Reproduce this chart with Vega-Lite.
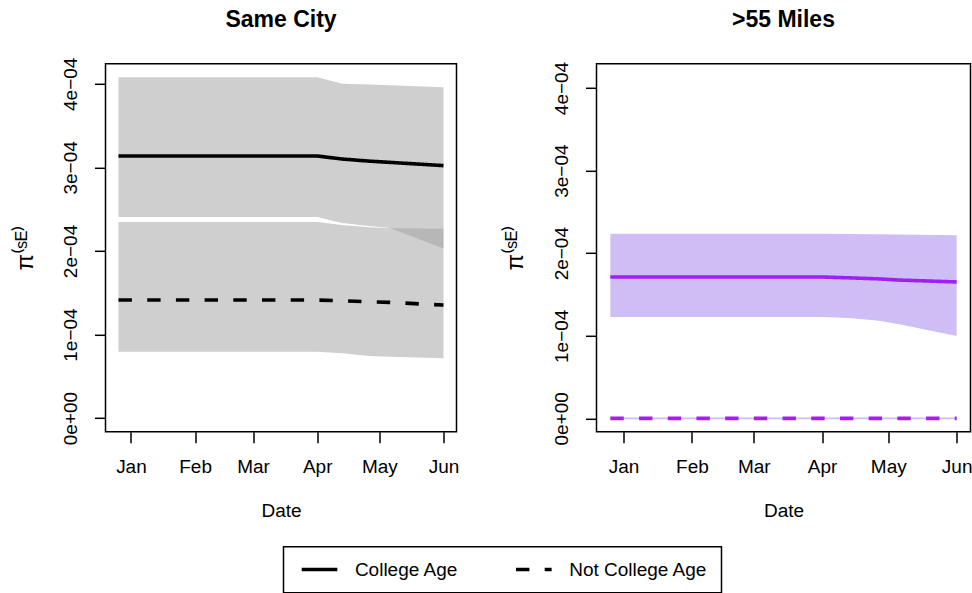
{
  "$schema": "https://vega.github.io/schema/vega-lite/v6.json",
  "background": "white",
  "padding": {"left": 11.5, "top": 7.8, "right": 5, "bottom": 1},
  "datasets": {
    "rows": [
      {"panel": "Same City", "group": "College Age", "date": "2020-12-26", "est": 0.0003136, "lo": 0.0002407, "hi": 0.0004079},
      {"panel": "Same City", "group": "College Age", "date": "2021-04-01", "est": 0.0003136, "lo": 0.0002407, "hi": 0.0004079},
      {"panel": "Same City", "group": "College Age", "date": "2021-04-13", "est": 0.0003100, "lo": 0.0002335, "hi": 0.0004000},
      {"panel": "Same City", "group": "College Age", "date": "2021-04-26", "est": 0.0003075, "lo": 0.0002300, "hi": 0.0003990},
      {"panel": "Same City", "group": "College Age", "date": "2021-05-06", "est": 0.0003060, "lo": 0.0002275, "hi": 0.0003983},
      {"panel": "Same City", "group": "College Age", "date": "2021-06-01", "est": 0.0003021, "lo": 0.0002030, "hi": 0.0003959},
      {"panel": "Same City", "group": "Not College Age", "date": "2020-12-26", "est": 0.0001413, "lo": 0.0000795, "hi": 0.0002347},
      {"panel": "Same City", "group": "Not College Age", "date": "2021-04-01", "est": 0.0001413, "lo": 0.0000795, "hi": 0.0002347},
      {"panel": "Same City", "group": "Not College Age", "date": "2021-04-13", "est": 0.0001405, "lo": 0.0000776, "hi": 0.0002310},
      {"panel": "Same City", "group": "Not College Age", "date": "2021-04-26", "est": 0.0001393, "lo": 0.0000744, "hi": 0.0002285},
      {"panel": "Same City", "group": "Not College Age", "date": "2021-05-06", "est": 0.0001385, "lo": 0.0000736, "hi": 0.0002272},
      {"panel": "Same City", "group": "Not College Age", "date": "2021-06-01", "est": 0.0001353, "lo": 0.0000716, "hi": 0.0002265},
      {"panel": ">55 Miles", "group": "College Age", "date": "2020-12-26", "est": 0.0001712, "lo": 0.0001229, "hi": 0.0002237},
      {"panel": ">55 Miles", "group": "College Age", "date": "2021-04-01", "est": 0.0001712, "lo": 0.0001229, "hi": 0.0002237},
      {"panel": ">55 Miles", "group": "College Age", "date": "2021-04-13", "est": 0.0001702, "lo": 0.0001215, "hi": 0.0002234},
      {"panel": ">55 Miles", "group": "College Age", "date": "2021-04-26", "est": 0.0001690, "lo": 0.0001185, "hi": 0.0002230},
      {"panel": ">55 Miles", "group": "College Age", "date": "2021-05-06", "est": 0.0001675, "lo": 0.0001140, "hi": 0.0002225},
      {"panel": ">55 Miles", "group": "College Age", "date": "2021-06-01", "est": 0.0001652, "lo": 0.0000999, "hi": 0.0002216},
      {"panel": ">55 Miles", "group": "Not College Age", "date": "2020-12-26", "est": 0, "lo": -0.000001, "hi": 0.000001},
      {"panel": ">55 Miles", "group": "Not College Age", "date": "2021-04-01", "est": 0, "lo": -0.000001, "hi": 0.000001},
      {"panel": ">55 Miles", "group": "Not College Age", "date": "2021-06-01", "est": 0, "lo": -0.000001, "hi": 0.000001}
    ]
  },
  "bounds": "flush",
  "spacing": 140,
  "hconcat": [
    {
      "width": 351,
      "height": 368,
      "title": {"text": "Same City", "fontSize": 23, "fontWeight": "bold", "font": "Liberation Sans", "color": "black", "frame": "group", "baseline": "alphabetic", "offset": 7, "anchor": "middle"},
      "data": {"name": "rows"},
      "transform": [{"filter": "datum.panel === 'Same City'"}],
      "encoding": {
        "x": {
          "field": "date", "type": "temporal", "title": "Date",
          "scale": {"type": "utc", "domain": [{"year": 2020, "month": 12, "date": 19, "hours": 17, "minutes": 17, "utc": true}, {"year": 2021, "month": 6, "date": 7, "hours": 6, "minutes": 43, "utc": true}]},
          "axis": {"format": "%b", "values": [{"year": 2021, "month": 1, "date": 1, "utc": true}, {"year": 2021, "month": 2, "date": 1, "utc": true}, {"year": 2021, "month": 3, "date": 1, "utc": true}, {"year": 2021, "month": 4, "date": 1, "utc": true}, {"year": 2021, "month": 5, "date": 1, "utc": true}, {"year": 2021, "month": 6, "date": 1, "utc": true}]}
        }
      },
      "layer": [
        {
          "mark": {"type": "area", "color": "#a0a0a0", "opacity": 0.5},
          "encoding": {
            "y": {"field": "lo", "type": "quantitative", "title": "π⁽ˢᴱ⁾", "scale": {"domain": [-0.0000163, 0.0004239], "nice": false, "zero": false}, "axis": {"values": [0, 0.0001, 0.0002, 0.0003, 0.0004], "labelExpr": "['0e+00','1e−04','2e−04','3e−04','4e−04'][round(datum.value*10000)]"}},
            "y2": {"field": "hi"},
            "detail": {"field": "group"}
          }
        },
        {
          "mark": {"type": "line", "color": "black", "strokeWidth": 3.6},
          "encoding": {
            "y": {"field": "est", "type": "quantitative", "title": "π⁽ˢᴱ⁾"},
            "strokeDash": {"field": "group", "type": "nominal", "scale": {"domain": ["College Age", "Not College Age"], "range": [[1, 0], [13.4, 15.3]]}, "legend": {"title": null, "orient": "none", "legendX": 178, "legendY": 483, "direction": "horizontal"}}
          }
        }
      ]
    },
    {
      "width": 374,
      "height": 368,
      "title": {"text": ">55 Miles", "fontSize": 23, "fontWeight": "bold", "font": "Liberation Sans", "color": "black", "frame": "group", "baseline": "alphabetic", "offset": 11, "anchor": "middle"},
      "data": {"name": "rows"},
      "transform": [{"filter": "datum.panel === '>55 Miles'"}],
      "encoding": {
        "x": {
          "field": "date", "type": "temporal", "title": "Date",
          "scale": {"type": "utc", "domain": [{"year": 2020, "month": 12, "date": 19, "hours": 17, "minutes": 17, "utc": true}, {"year": 2021, "month": 6, "date": 7, "hours": 6, "minutes": 43, "utc": true}]},
          "axis": {"format": "%b", "values": [{"year": 2021, "month": 1, "date": 1, "utc": true}, {"year": 2021, "month": 2, "date": 1, "utc": true}, {"year": 2021, "month": 3, "date": 1, "utc": true}, {"year": 2021, "month": 4, "date": 1, "utc": true}, {"year": 2021, "month": 5, "date": 1, "utc": true}, {"year": 2021, "month": 6, "date": 1, "utc": true}]}
        }
      },
      "layer": [
        {
          "mark": {"type": "area", "color": "#cfbef5", "opacity": 1},
          "encoding": {
            "y": {"field": "lo", "type": "quantitative", "title": "π⁽ˢᴱ⁾", "scale": {"domain": [-0.0000162, 0.0004293], "nice": false, "zero": false}, "axis": {"values": [0, 0.0001, 0.0002, 0.0003, 0.0004], "labelExpr": "['0e+00','1e−04','2e−04','3e−04','4e−04'][round(datum.value*10000)]"}},
            "y2": {"field": "hi"},
            "detail": {"field": "group"}
          }
        },
        {
          "mark": {"type": "line", "color": "#a020f0", "strokeWidth": 3.6},
          "encoding": {
            "y": {"field": "est", "type": "quantitative", "title": "π⁽ˢᴱ⁾"},
            "strokeDash": {"field": "group", "type": "nominal", "scale": {"domain": ["College Age", "Not College Age"], "range": [[1, 0], [13.4, 15.3]]}, "legend": {"title": null, "orient": "none", "legendX": 178, "legendY": 483, "direction": "horizontal"}}
          }
        }
      ]
    }
  ],
  "config": {
    "font": "Liberation Sans",
    "view": {"stroke": "black", "strokeWidth": 1.5},
    "axis": {"labelFont": "Liberation Sans", "labelFontSize": 19, "labelColor": "black", "titleFont": "Liberation Sans", "titleFontSize": 19, "titleFontWeight": "normal", "titleColor": "black", "tickColor": "black", "tickWidth": 1.5, "tickSize": 11, "domain": false, "grid": false},
    "axisX": {"labelAngle": 0, "labelPadding": 30, "labelBaseline": "alphabetic", "titleBaseline": "alphabetic", "titlePadding": 40},
    "axisY": {"labelAngle": -90, "labelAlign": "center", "labelBaseline": "alphabetic", "labelPadding": 18, "titleAngle": -90, "titleBaseline": "alphabetic", "titlePadding": 29.5, "titleFontSize": 24},
    "legend": {"symbolType": "M-0.7,0H5.1", "symbolSize": 151, "symbolStrokeWidth": 3.6, "symbolStrokeColor": "black", "labelFont": "Liberation Sans", "labelFontSize": 19, "labelColor": "black", "labelOffset": 39.4, "padding": 13, "columnPadding": 49.3, "strokeColor": "black", "strokeWidth": 1.5}
  }
}
